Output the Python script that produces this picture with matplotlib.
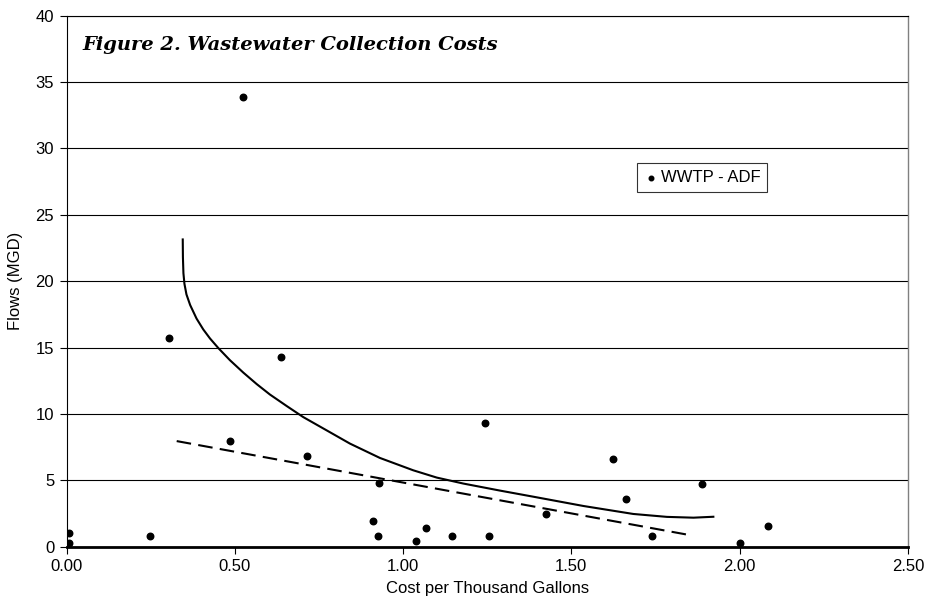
import numpy as np
import matplotlib.pyplot as plt

plt.rcParams['font.family'] = ['Liberation Sans', 'DejaVu Sans']

# WWTP average daily flow vs cost per thousand gallons
cost = [0.008, 0.008, 0.248, 0.303, 0.485, 0.523, 0.636, 0.715, 0.911, 0.924, 0.928, 1.037,
        1.068, 1.144, 1.243, 1.256, 1.424, 1.625, 1.663, 1.739, 1.889, 2.001, 2.083]
flow = [0.99, 0.27, 0.77, 15.74, 7.96, 33.86, 14.29, 6.8, 1.92, 0.77, 4.81, 0.43,
        1.42, 0.77, 9.33, 0.77, 2.42, 6.6, 3.6, 0.77, 4.73, 0.27, 1.58]

# smoothed trend curve
curve_x = [0.345, 0.3455, 0.347, 0.350, 0.356, 0.367, 0.386, 0.406, 0.426, 0.451, 0.485,
           0.525, 0.565, 0.604, 0.654, 0.703, 0.783, 0.842, 0.931, 1.030, 1.100, 1.179,
           1.288, 1.387, 1.536, 1.684, 1.784, 1.863, 1.922]
curve_y = [23.14, 21.8, 20.6, 19.8, 19.0, 18.2, 17.18, 16.36, 15.68, 14.95, 14.05,
           13.11, 12.24, 11.46, 10.59, 9.76, 8.61, 7.76, 6.68, 5.75, 5.2, 4.75,
           4.22, 3.76, 3.06, 2.46, 2.24, 2.18, 2.25]

# linear trend
lin_x = [0.327, 1.858]
lin_y = [7.95, 0.84]

fig = plt.figure(figsize=(9.43, 6.02), dpi=100)
ax = fig.add_axes([0.0707, 0.092, 0.892, 0.882])

ax.set_xlim(0, 2.5)
ax.set_ylim(0, 40)
ax.set_xticks(np.arange(0, 2.51, 0.5))
ax.set_xticklabels(['%.2f' % v for v in np.arange(0, 2.51, 0.5)])
ax.set_yticks(range(0, 41, 5))

ax.yaxis.grid(True, color='black', lw=0.8)
ax.set_axisbelow(True)

ax.spines['left'].set_color('black')
ax.spines['left'].set_linewidth(0.8)
ax.spines['bottom'].set_color('black')
ax.spines['bottom'].set_linewidth(2.0)
ax.spines['right'].set_color('#808080')
ax.spines['right'].set_linewidth(1.0)
ax.spines['top'].set_color('black')
ax.spines['top'].set_linewidth(0.8)

ax.tick_params(axis='both', direction='out', length=5, width=0.8, labelsize=12, colors='black')
ax.tick_params(axis='x', pad=4)
ax.tick_params(axis='y', pad=4)

ax.plot(curve_x, curve_y, color='black', lw=1.5, zorder=3, solid_joinstyle='round')
ax.plot(lin_x, lin_y, color='black', lw=1.5, dashes=(7, 3.5), zorder=3)
ax.scatter(cost, flow, s=22, color='black', zorder=4, label='WWTP - ADF')

leg = ax.legend(loc='upper left', bbox_to_anchor=(0.678, 0.722), frameon=True, fancybox=False,
                edgecolor='black', fontsize=12, handletextpad=0.15, borderpad=0.4,
                handlelength=0.9, borderaxespad=0, markerscale=0.7)
leg.get_frame().set_linewidth(0.8)

ax.text(0.019, 0.945, 'Figure 2. Wastewater Collection Costs', transform=ax.transAxes,
        fontsize=14, fontweight='bold', fontstyle='italic', family='DejaVu Serif',
        va='center', ha='left')

ax.set_xlabel('Cost per Thousand Gallons', fontsize=12, labelpad=5)
ax.set_ylabel('Flows (MGD)', fontsize=12, labelpad=9)

fig.savefig('out.png', dpi=100)
